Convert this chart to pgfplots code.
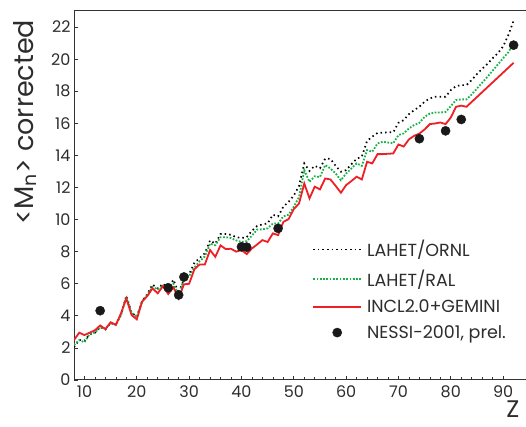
\documentclass[border=0pt]{standalone}
\usepackage{pgfplots}
\pgfplotsset{compat=1.18}
\usepackage{fontspec}
\setmainfont{Poppins}
\definecolor{myred}{RGB}{238,32,38}
\definecolor{mygreen}{RGB}{24,178,72}
\definecolor{txt}{RGB}{45,45,45}

\pgfplotstableread{
Z M
8 2.49
9 2.95
10 2.80
11 2.95
12 3.10
13 3.40
14 3.17
15 3.60
16 3.43
17 4.17
18 5.09
19 4.05
20 3.78
21 4.88
22 5.23
23 5.71
24 5.40
25 5.86
26 5.36
27 5.77
28 5.09
29 5.96
30 6.00
31 6.90
32 7.20
33 7.20
34 8.10
35 7.68
36 8.39
37 8.16
38 8.18
39 8.00
40 8.10
41 7.85
42 8.20
43 8.45
44 8.72
45 8.60
46 9.14
47 9.03
48 9.85
49 10.03
50 10.65
51 11.00
52 12.25
53 11.32
54 12.05
55 11.88
56 12.56
57 12.50
58 12.10
59 11.67
60 12.15
61 12.40
62 12.67
63 12.50
64 13.60
65 13.50
66 14.08
67 14.08
68 14.10
69 14.12
70 14.68
71 14.55
72 15.00
73 15.22
74 15.36
75 15.62
76 15.95
77 15.99
78 16.05
79 15.95
80 16.36
81 17.03
82 17.10
83 17.03
92 19.77
}\incl

\pgfplotstableread{
Z M
8 2.18
9 2.49
10 2.35
11 2.87
12 2.95
13 3.30
14 3.20
15 3.55
16 3.45
17 4.05
18 5.20
19 4.20
20 3.92
21 4.88
22 5.30
23 5.80
24 5.66
25 5.90
26 5.66
27 6.00
28 5.30
29 6.27
30 6.48
31 7.00
32 7.40
33 7.70
34 8.50
35 8.40
36 8.90
37 8.90
38 8.85
39 8.70
40 8.60
41 8.65
42 9.00
43 9.38
44 9.39
45 9.45
46 9.75
47 9.75
48 10.20
49 10.30
50 10.80
51 11.40
52 13.08
53 12.35
54 12.70
55 12.65
56 13.40
57 13.18
58 12.87
59 12.45
60 12.87
61 13.18
62 13.50
63 13.35
64 14.33
65 14.23
66 14.75
67 14.85
68 14.80
69 14.75
70 15.27
71 15.37
72 15.68
73 15.89
74 16.03
75 16.40
76 16.61
77 16.67
78 16.67
79 16.71
80 17.07
81 17.45
82 17.49
83 17.49
84 17.80
85 18.17
86 18.53
87 18.90
88 19.28
89 19.67
90 20.06
91 20.43
92 21.00
}\ral

\pgfplotstableread{
Z M
8 2.05
9 2.50
10 2.45
11 2.85
12 2.95
13 3.30
14 3.15
15 3.55
16 3.45
17 4.10
18 5.25
19 4.20
20 3.95
21 4.90
22 5.35
23 5.95
24 5.70
25 6.00
26 5.70
27 6.25
28 5.40
29 6.30
30 6.60
31 7.30
32 7.60
33 7.90
34 8.70
35 8.50
36 9.10
37 9.10
38 9.05
39 8.90
40 8.85
41 8.90
42 9.30
43 9.60
44 9.70
45 9.76
46 10.30
47 10.20
48 10.80
49 11.10
50 11.50
51 12.10
52 13.50
53 13.03
54 13.35
55 13.20
56 13.80
57 13.78
58 13.35
59 12.98
60 13.08
61 13.45
62 13.78
63 13.93
64 14.90
65 15.17
66 15.40
67 15.42
68 15.44
69 15.44
70 16.03
71 16.20
72 16.57
73 16.82
74 17.03
75 17.35
76 17.55
77 17.65
78 17.65
79 17.65
80 18.07
81 18.32
82 18.38
83 18.38
84 18.70
85 19.07
86 19.40
87 19.70
88 20.06
89 20.37
90 20.80
91 21.50
92 22.40
}\ornl

\pgfplotstableread{
Z M
13 4.32
26 5.75
28 5.30
29 6.42
40 8.30
41 8.28
47 9.45
74 15.04
79 15.53
82 16.24
92 20.87
}\nessi

\tikzset{
  ornlstyle/.style={black, line width=1.7pt, dash pattern=on 1.5pt off 3.1pt},
  ralstyle/.style={mygreen, line width=1.8pt, dash pattern=on 1.7pt off 1.6pt},
  inclstyle/.style={myred, line width=1.8pt},
}

\begin{document}
\begin{tikzpicture}
\useasboundingbox (0,0) rectangle (526pt,427pt);
\begin{axis}[
  at={(74pt,47pt)}, anchor=south west,
  scale only axis, width=455.3pt, height=369pt,
  xmin=8, xmax=95, ymin=0, ymax=23,
  xtick={10,20,...,90}, minor x tick num=4,
  ytick={0,2,...,22},
  xtick pos=bottom, ytick pos=left,
  tick align=inside,
  major tick length=4pt, minor tick length=2.5pt,
  axis line style={draw=black!80, line width=1pt},
  tick style={black!80, line width=0.7pt},
  /pgf/number format/assume math mode=true,
  tick label style={text=txt, font=\fontsize{16}{16}\selectfont},
  xticklabel style={yshift=-2pt},
  ylabel={<M\textsubscript{n}> corrected},
  xlabel={Z},
  every axis y label/.style={at={(axis description cs:-0.1076,0.699)}, rotate=90, anchor=center, text=txt, font=\fontsize{27}{27}\selectfont},
  every axis x label/.style={at={(axis description cs:0.964,-0.078)}, anchor=center, text=txt, font=\fontsize{24}{24}\selectfont},
  legend style={draw=none, fill=none, at={(axis description cs:0.523,0.384)}, anchor=north west,
    font=\fontsize{17.5}{17.5}\selectfont, text=txt, row sep=7.5pt, inner sep=0pt,
    nodes={inner xsep=5pt}},
  legend cell align=left,
]
\addplot[only marks, mark=*, mark size=4.6pt, color=black!90, forget plot] table {\nessi};
\addplot[ornlstyle, forget plot] table {\ornl};
\addplot[ralstyle, forget plot] table {\ral};
\addplot[inclstyle, forget plot] table {\incl};
\addlegendimage{legend image code/.code={\draw[ornlstyle] (0pt,0pt) -- (48pt,0pt);}}
\addlegendentry{LAHET/ORNL}
\addlegendimage{legend image code/.code={\draw[ralstyle] (0pt,0pt) -- (48pt,0pt);}}
\addlegendentry{LAHET/RAL}
\addlegendimage{legend image code/.code={\draw[inclstyle] (0pt,0pt) -- (48pt,0pt);}}
\addlegendentry{INCL2.0+GEMINI}
\addlegendimage{legend image code/.code={\fill[black!90] (24pt,0pt) circle (4.6pt);}}
\addlegendentry{NESSI-2001, prel.}
\end{axis}
\end{tikzpicture}
\end{document}
